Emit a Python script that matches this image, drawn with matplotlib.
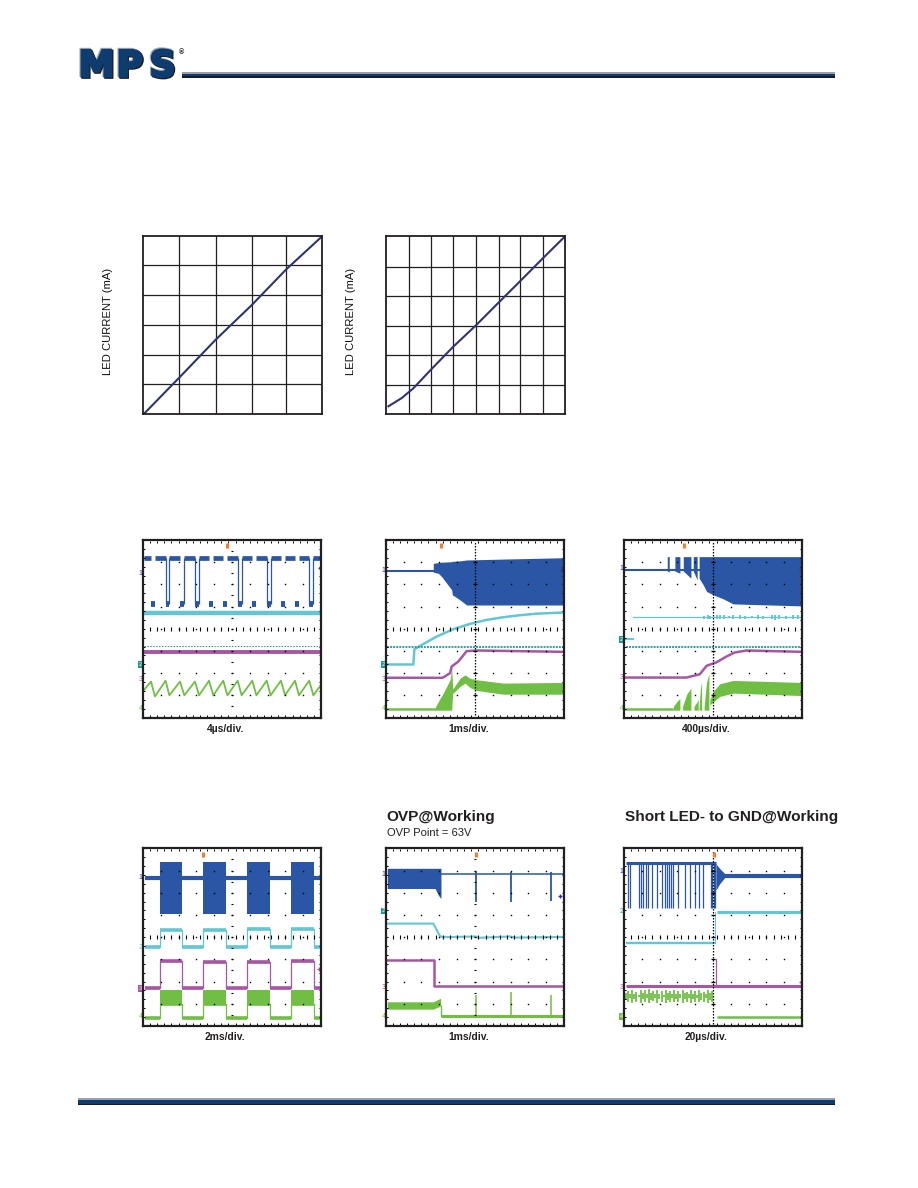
#!/usr/bin/env python
# datasheet page: two led current curves and six scope shots
import numpy as np
import matplotlib
matplotlib.use('Agg')
import matplotlib.pyplot as plt
import matplotlib.patheffects as pe
from matplotlib.patches import Rectangle

plt.rcParams['font.family'] = ['Liberation Sans', 'DejaVu Sans']

W, H = 918, 1188

BLUE = '#2a56a5'
CYAN = '#62c7d3'
PURPLE = '#a656a2'
GREEN = '#70bf44'
TEAL = '#1f9a9a'
ORANGE = '#f47c30'
NAVY = '#2e3192'
INK = '#231f20'
LOGO = '#0f3c6e'

# led current curves (grid divisions)
curve1_x = [0.06, 1.03, 2.04, 3.05, 4.01, 5.0]
curve1_y = [0.03, 1.23, 2.50, 3.67, 4.87, 5.97]
curve1_xticks = [1.03, 2.04, 3.05, 4.01]
curve2_x = [0.13, 0.73, 1.25, 2.05, 3.03, 4.03, 5.06, 6.02, 7.02, 8.0]
curve2_y = [0.26, 0.54, 0.87, 1.51, 2.27, 2.98, 3.76, 4.48, 5.24, 5.97]
curve2_xticks = [1.07, 2.05, 3.03, 4.03, 5.06, 6.02, 7.02]
curve1_yticks = [1.0, 2.0, 3.01, 4.0, 5.01]
curve2_yticks = [0.97, 1.98, 2.98, 3.99, 4.97]

# scope A, 4us/div
a_blue_high = [(0.07, 0.45), (0.67, 1.27), (1.48, 2.08), (2.32, 2.92), (3.15, 3.71), (3.95, 4.51),
               (4.74, 5.32), (5.54, 6.14), (6.37, 6.95), (7.17, 7.75), (7.98, 8.54), (8.76, 9.34), (9.57, 9.94)]
a_blue_low = [(0.45, 0.67), (1.27, 1.48), (2.08, 2.32), (2.92, 3.15), (3.71, 3.95), (4.51, 4.74),
              (5.32, 5.54), (6.14, 6.37), (6.95, 7.17), (7.75, 7.98), (8.54, 8.76), (9.34, 9.57)]
a_edges = [1.27, 1.48, 2.32, 2.92, 3.15, 5.32, 5.54, 6.95, 7.17, 9.34, 9.57]
a_green_x = [0.07, 0.45, 0.67, 1.27, 1.48, 2.08, 2.32, 2.92, 3.15, 3.71, 3.95, 4.51, 4.74, 5.32, 5.54,
             6.14, 6.37, 6.95, 7.17, 7.75, 7.98, 8.54, 8.76, 9.34, 9.57, 9.94]
a_green_y = [1.25, 1.62, 0.95, 1.66, 1.0, 1.62, 1.0, 1.62, 1.0, 1.66, 1.0, 1.66, 1.0, 1.66, 1.0,
             1.66, 1.0, 1.66, 1.0, 1.66, 1.0, 1.66, 1.0, 1.66, 1.0, 1.4]

# scope B, 1ms/div
b_blue_x = [2.67, 2.95, 3.14, 3.70, 3.74, 4.17, 4.54, 6.60, 9.93]
b_blue_top = [6.95, 6.98, 7.0, 7.02, 7.04, 7.06, 7.10, 7.14, 7.2]
b_blue_bot = [6.55, 6.50, 6.35, 5.75, 5.53, 5.30, 5.07, 5.07, 5.07]
b_cyan_x = [0.06, 1.55, 1.61, 1.93, 2.86, 3.79, 4.73, 5.66, 6.60, 7.53, 8.47, 9.93]
b_cyan_y = [2.39, 2.39, 3.08, 3.23, 3.65, 3.98, 4.22, 4.40, 4.52, 4.61, 4.68, 4.73]
b_purple_x = [0.06, 3.2, 3.61, 3.70, 4.07, 4.54, 5.10, 9.93]
b_purple_y = [1.79, 1.79, 2.0, 2.30, 2.52, 2.99, 3.02, 2.96]
b_green_x = [0.06, 2.77, 2.95, 3.23, 3.61, 3.70, 3.76, 3.79, 4.17, 4.45, 4.73, 5.10, 6.60, 9.93]
b_green_top = [0.44, 0.44, 0.72, 1.10, 1.70, 2.22, 1.30, 1.32, 1.77, 1.92, 1.77, 1.70, 1.55, 1.58]
b_green_bot = [0.33, 0.33, 0.33, 0.33, 0.33, 0.33, 1.10, 1.10, 1.40, 1.55, 1.35, 1.22, 1.05, 1.05]

# scope C, 400us/div
c_blue_bursts = [(2.43, 2.54, 6.55), (2.86, 3.14, 6.50), (3.33, 3.76, 6.28), (3.89, 4.11, 6.20)]
c_blue_x = [4.22, 4.45, 4.64, 5.01, 5.57, 6.13, 9.96]
c_blue_bot = [6.28, 5.98, 5.68, 5.53, 5.35, 5.12, 5.03]
c_cyan_noise = [4.5, 4.7, 4.85, 5.2, 5.4, 5.6, 5.9, 6.1, 6.5, 6.8, 7.2, 7.5, 7.8, 8.3, 8.5, 8.7, 9.1, 9.5, 9.8]
c_cyan_spread = [0.06, 0.08, 0.06, 0.10, 0.08, 0.10, 0.05, 0.08, 0.10, 0.06, 0.05, 0.10, 0.06, 0.10, 0.12, 0.10, 0.06, 0.08, 0.08]
c_purple_x = [0.11, 3.51, 4.26, 4.64, 5.20, 5.76, 6.22, 6.88, 9.96]
c_purple_y = [1.80, 1.80, 1.95, 2.33, 2.49, 2.75, 2.93, 3.02, 2.96]
c_green_bursts = [(2.77, 3.14, 0.87), (3.29, 3.76, 1.32), (3.93, 4.17, 0.80), (4.22, 4.36, 1.62), (4.50, 4.77, 1.97)]
c_green_x = [4.82, 5.01, 5.38, 6.13, 9.96]
c_green_top = [0.80, 1.17, 1.52, 1.67, 1.58]
c_green_bot = [0.57, 0.70, 0.95, 1.10, 0.99]

# scope D, 2ms/div: on/off edges of the dimming bursts
d_on = [0.94, 3.39, 5.86, 8.33]
d_off = [2.17, 4.64, 7.12, 9.59]
d_cyan_high = [4.32, 4.32, 4.36, 4.36]
d_purple_high = [2.92, 2.90, 2.90, 2.92]

# scope E, 1ms/div
e_blue_x = [0.09, 2.77, 2.95, 3.10]
e_blue_top = [7.10, 7.10, 7.10, 7.10]
e_blue_bot = [6.19, 6.19, 5.89, 5.74]
e_spike_x = [5.08, 7.03, 9.29]
e_spike_blue = [5.59, 5.59, 5.62]
e_spike_green = [1.39, 1.51, 1.39]
e_cyan_x = [0.09, 2.67, 3.05, 3.23, 5.05, 5.2, 7.0, 7.2, 9.93]
e_cyan_y = [4.61, 4.61, 4.04, 4.0, 4.03, 3.97, 4.03, 3.98, 4.01]
e_purple_x = [0.09, 2.71, 2.71, 9.93]
e_purple_y = [2.97, 2.97, 1.78, 1.78]
e_green_x = [0.09, 2.67, 3.08]
e_green_top = [1.09, 1.09, 1.25]
e_green_bot = [0.76, 0.76, 0.90]

# scope F, 20us/div
f_drop_x = [0.24, 0.34, 0.86, 0.95, 1.08, 1.21, 1.36, 1.55, 1.87, 2.11, 2.30, 2.43, 2.54, 2.64, 2.77,
            3.05, 3.44, 3.70, 3.98, 4.22, 4.45, 4.88, 4.95, 5.05, 5.12]
f_decay_x = [5.16, 5.38, 5.66]
f_decay_top = [7.31, 7.09, 6.86]
f_decay_bot = [6.11, 6.41, 6.68]
f_green_x = [0.12, 0.24, 0.34, 0.46, 0.58, 0.70, 0.82, 0.93, 1.05, 1.17, 1.29, 1.40, 1.52, 1.64, 1.76, 1.88,
             1.99, 2.11, 2.23, 2.35, 2.46, 2.58, 2.70, 2.82, 2.94, 3.05, 3.17, 3.29, 3.41, 3.52, 3.64, 3.76,
             3.88, 4.00, 4.11, 4.23, 4.35, 4.47, 4.58, 4.70, 4.82, 4.94]
f_green_lo = [1.18, 1.08, 1.25, 1.05, 1.22, 1.10, 1.30, 1.02, 1.20, 1.08, 1.28, 1.05, 1.18, 1.12, 1.25, 1.05,
              1.22, 1.08, 1.30, 1.04, 1.18, 1.10, 1.25, 1.06, 1.20, 1.08, 1.28, 1.05, 1.22, 1.10, 1.26, 1.04,
              1.20, 1.08, 1.28, 1.06, 1.18, 1.10, 1.24, 1.05, 1.16, 1.08]
f_green_hi = [1.48, 1.58, 1.42, 1.62, 1.46, 1.55, 1.40, 1.64, 1.48, 1.60, 1.42, 1.66, 1.50, 1.56, 1.44, 1.62,
              1.46, 1.58, 1.40, 1.62, 1.50, 1.56, 1.44, 1.60, 1.46, 1.58, 1.42, 1.62, 1.48, 1.54, 1.42, 1.62,
              1.46, 1.58, 1.40, 1.62, 1.50, 1.55, 1.44, 1.60, 1.48, 1.56]

# channel flags left of each shot: (label, y, colour, boxed)
a_flags = [('1', 6.5, NAVY, False), ('2', 2.37, TEAL, True), ('3', 1.70, PURPLE, False), ('4', 0.39, GREEN, False)]
b_flags = [('1', 6.62, NAVY, False), ('2', 2.39, TEAL, True), ('3', 1.73, PURPLE, False), ('4', 0.39, GREEN, False)]
c_flags = [('1', 6.73, NAVY, False), ('2', 3.53, TEAL, True), ('3', 1.80, PURPLE, False), ('4', 0.39, GREEN, False)]
d_flags = [('1', 6.68, NAVY, False), ('2', 3.54, CYAN, False), ('3', 1.70, PURPLE, True), ('4', 0.42, GREEN, False)]
e_flags = [('1', 6.83, NAVY, False), ('2', 5.18, TEAL, True), ('3', 1.72, PURPLE, False), ('4', 0.42, GREEN, False)]
f_flags = [('1', 6.95, NAVY, False), ('2', 5.14, TEAL, False), ('3', 1.74, PURPLE, False), ('4', 0.42, GREEN, True)]

trigger_x = [4.74, 3.10, 3.36, 3.39, 5.07, 5.07]
right_marks = [(9.92, 6.72, NAVY), (9.9, 6.65, NAVY), (9.95, 6.7, NAVY), (9.9, 2.55, PURPLE), (9.8, 5.87, NAVY), (9.95, 1.98, PURPLE)]
scope_labels = ['4\u00b5s/div.', '1ms/div.', '400\u00b5s/div.', '2ms/div.', '1ms/div.', '20\u00b5s/div.']


def px_axes(fig, l, t, r, b):
    return fig.add_axes([l / W, 1 - b / H, (r - l) / W, (b - t) / H])


def fig_rect(fig, l, t, r, b, color):
    fig.add_artist(Rectangle((l / W, 1 - b / H), (r - l) / W, (b - t) / H,
                             transform=fig.transFigure, color=color, lw=0))


def curve_panel(fig, box, x, y, xticks, yticks, nx):
    ax = px_axes(fig, *box)
    ax.set_xlim(0, nx)
    ax.set_ylim(0, 6)
    ax.set_xticks(xticks)
    ax.set_yticks(yticks)
    ax.tick_params(length=0, labelbottom=False, labelleft=False)
    ax.grid(True, color=INK, lw=0.9)
    ax.set_axisbelow(True)
    ax.plot(x, y, color='#2f3470', lw=1.5)
    for s in ax.spines.values():
        s.set_linewidth(1.3)
        s.set_color(INK)
    ax.text(-0.19, 0.52, 'LED CURRENT (mA)', transform=ax.transAxes, rotation=90, ha='center',
            va='center', fontsize=8.1, color='#111111')
    return ax


def graticule(ax, dense_centre):
    # dots on each division, finer ticks on the border and centre cross
    for gx in range(1, 10):
        ax.plot([gx] * 7, list(range(1, 8)), ls='', marker='s', ms=1.0, mew=0, color='k', zorder=6)
    border_x = np.arange(0.4, 10, 0.4)
    border_y = np.arange(0.4, 8, 0.4)
    ax.plot(border_x, [4] * len(border_x), ls='', marker='|', ms=2.8, mew=0.8, color='k', zorder=6)
    ax.plot(border_x, [7.93] * len(border_x), ls='', marker='|', ms=2, mew=0.7, color='k', zorder=6)
    ax.plot(border_x, [0.07] * len(border_x), ls='', marker='|', ms=2, mew=0.7, color='k', zorder=6)
    ax.plot([0.07] * len(border_y), border_y, ls='', marker='_', ms=2, mew=0.7, color='k', zorder=6)
    ax.plot([9.93] * len(border_y), border_y, ls='', marker='_', ms=2, mew=0.7, color='k', zorder=6)
    if dense_centre:
        ax.plot([5, 5], [0.1, 7.9], color='k', lw=0.9, ls=(0, (1.2, 1.2)), zorder=6)
        ax.plot([5] * 7, list(range(1, 8)), ls='', marker='_', ms=2.6, mew=0.9, color='k', zorder=6)
    else:
        centre_y = np.arange(0.5, 8, 0.5)
        ax.plot([5] * len(centre_y), centre_y, ls='', marker='_', ms=1.5, mew=0.8, color='k', zorder=6)


def scope_panel(fig, box, flags, trig, mark, label, dense_centre=False):
    ax = px_axes(fig, *box)
    ax.set_xlim(0, 10)
    ax.set_ylim(0, 8)
    ax.set_xticks([])
    ax.set_yticks([])
    for s in ax.spines.values():
        s.set_linewidth(1.6)
        s.set_color(INK)
        s.set_zorder(10)
    graticule(ax, dense_centre)
    ax.plot([trig, trig], [7.62, 7.85], color=ORANGE, lw=2.2, solid_capstyle='butt', zorder=7)
    ax.plot([mark[0]], [mark[1]], marker='+', ms=3, mew=1, color=mark[2], zorder=7)
    for txt, y, col, boxed in flags:
        if boxed:
            ax.text(-0.13, y, txt, fontsize=4.5, color='white', ha='center', va='center', clip_on=False,
                    bbox=dict(boxstyle='square,pad=0.15', fc=col, ec=col, lw=0))
        else:
            ax.text(-0.13, y, txt, fontsize=5, color=col, ha='center', va='center', clip_on=False)
    ax.text(0.463, -0.066 if box[1] < 800 else -0.062, label, transform=ax.transAxes, ha='center', va='center',
            fontsize=7.4, weight='bold', color=INK)
    return ax


fig = plt.figure(figsize=(W / 100, H / 100), dpi=100, facecolor='white')

# header and footer rules
fig_rect(fig, 181.5, 72, 835, 73.5, '#9a9fb0')
fig_rect(fig, 181.5, 73.5, 835, 76.5, LOGO)
fig_rect(fig, 181.5, 76.5, 835, 78, '#1c1a1a')
fig_rect(fig, 78, 1098, 835, 1100, '#9a9fb0')
fig_rect(fig, 78, 1100, 835, 1103.5, LOGO)
fig_rect(fig, 78, 1103.5, 835, 1105, '#1c1a1a')

logo_effects = [pe.Stroke(linewidth=2, foreground='#9aa6b8', offset=(-0.7, 0.7), joinstyle='miter'),
                pe.Stroke(linewidth=2, foreground='#1c1a1a', offset=(0.7, -0.7), joinstyle='miter'),
                pe.Stroke(linewidth=1.8, foreground=LOGO, joinstyle='miter'), pe.Normal()]
for letter, lx in [('M', 78.5), ('P', 116.5), ('S', 149.5)]:
    t = fig.text(lx / W, 1 - 76.5 / H, letter, fontsize=26, weight='bold', family='DejaVu Sans', color=LOGO,
                 ha='left', va='baseline')
    t.set_path_effects(logo_effects)
fig.text(178.5 / W, 1 - 53 / H, '\u00ae', fontsize=5, weight='bold', color=INK, ha='left', va='center')

curve_panel(fig, (142.5, 236, 321.5, 414), curve1_x, curve1_y, curve1_xticks, curve1_yticks, 5)
curve_panel(fig, (385.5, 236, 564.5, 414), curve2_x, curve2_y, curve2_xticks, curve2_yticks, 8)

row1 = (540, 717.5)
row2 = (848.3, 1026)
left_a, left_b, left_c = (143, 321), (385.7, 564), (624, 802)

# A
ax = scope_panel(fig, (left_a[0], row1[0], left_a[1], row1[1]), a_flags, trigger_x[0], right_marks[0], scope_labels[0])
for x0, x1 in a_blue_high:
    ax.plot([x0, x1], [7.18, 7.18], color=BLUE, lw=3.4, solid_capstyle='butt')
for x0, x1 in a_blue_low:
    ax.plot([x0, x1], [5.12, 5.12], color=BLUE, lw=4.2, solid_capstyle='butt')
ax.vlines(a_edges, 5.12, 7.18, color=BLUE, lw=0.9)
ax.plot([0.07, 9.94], [4.73, 4.73], color=CYAN, lw=3.2, solid_capstyle='butt')
ax.plot([0.07, 9.94], [3.21, 3.21], color=TEAL, lw=0.7, ls=(0, (1.5, 1.5)))
ax.plot([0.07, 9.94], [2.97, 2.97], color=PURPLE, lw=2.8, solid_capstyle='butt')
ax.plot(a_green_x, a_green_y, color=GREEN, lw=1.3)

# B
ax = scope_panel(fig, (left_b[0], row1[0], left_b[1], row1[1]), b_flags, trigger_x[1], right_marks[1], scope_labels[1], True)
ax.plot([0.06, 2.7], [6.62, 6.62], color=BLUE, lw=1.5)
ax.fill_between(b_blue_x, b_blue_bot, b_blue_top, color=BLUE, lw=0)
ax.plot(b_cyan_x, b_cyan_y, color=CYAN, lw=1.8)
ax.plot([0.06, 9.93], [3.18, 3.18], color=TEAL, lw=1.3, ls=(0, (1.1, 0.6)))
ax.plot(b_purple_x, b_purple_y, color=PURPLE, lw=1.8)
ax.fill_between(b_green_x, b_green_bot, b_green_top, color=GREEN, lw=0)

# C
ax = scope_panel(fig, (left_c[0], row1[0], left_c[1], row1[1]), c_flags, trigger_x[2], right_marks[2], scope_labels[2], True)
ax.plot([0.11, 4.3], [6.65, 6.65], color=BLUE, lw=1.5)
for x0, x1, low in c_blue_bursts:
    ax.fill_between([x0, x1], [6.6, low], [7.25, 7.25], color=BLUE, lw=0)
ax.fill_between(c_blue_x, c_blue_bot, [7.25] * len(c_blue_x), color=BLUE, lw=0)
ax.plot([0.11, 0.52], [3.53, 3.53], color=CYAN, lw=1.4)
ax.plot([0.52, 9.96], [4.52, 4.52], color=CYAN, lw=0.9)
ax.vlines(c_cyan_noise, 4.52 - np.array(c_cyan_spread), 4.52 + np.array(c_cyan_spread), color=CYAN, lw=1.4)
ax.plot([0.11, 9.96], [3.18, 3.18], color=TEAL, lw=1.3, ls=(0, (1.1, 0.6)))
ax.plot(c_purple_x, c_purple_y, color=PURPLE, lw=1.8)
ax.plot([0.11, 2.7], [0.39, 0.39], color=GREEN, lw=1.8)
for x0, x1, top in c_green_bursts:
    ax.fill_between([x0, (x0 + x1) / 2, x1], [0.33, 0.33, 0.33], [0.5, top * 0.8, top], color=GREEN, lw=0)
ax.fill_between(c_green_x, c_green_bot, c_green_top, color=GREEN, lw=0)

# D
ax = scope_panel(fig, (left_a[0], row2[0], left_a[1], row2[1]), d_flags, trigger_x[3], right_marks[3], scope_labels[3])
ax.plot([0.1, 9.93], [6.68, 6.68], color=BLUE, lw=3, solid_capstyle='butt')
cyan_x, cyan_y, purple_x, purple_y, green_x, green_y = [0.1], [3.54], [0.1], [1.73], [0.1], [0.36]
for on, off, ch, ph in zip(d_on, d_off, d_cyan_high, d_purple_high):
    ax.fill_between([on, off], [5.05, 5.05], [7.40, 7.40], color=BLUE, lw=0)
    ax.fill_between([on, off], [0.95, 0.95], [1.62, 1.62], color=GREEN, lw=0)
    cyan_x += [on, on, off, off]
    cyan_y += [3.54, ch, ch, 3.54]
    purple_x += [on, on, off, off]
    purple_y += [1.73, ph, ph, 1.73]
    green_x += [on, on, off, off]
    green_y += [0.36, 1.0, 1.0, 0.36]
for xs, ys, col in [(cyan_x, cyan_y, CYAN), (purple_x, purple_y, PURPLE), (green_x, green_y, GREEN)]:
    xs = xs + [9.93]
    ys = ys + [ys[-1]]
    ax.plot(xs, ys, color=col, lw=0.9)
    flat = [(xs[i], xs[i + 1], ys[i]) for i in range(len(xs) - 1) if ys[i] == ys[i + 1]]
    for x0, x1, y in flat:
        ax.plot([x0, x1], [y, y], color=col, lw=2.6, solid_capstyle='butt')

# E
ax = scope_panel(fig, (left_b[0], row2[0], left_b[1], row2[1]), e_flags, trigger_x[4], right_marks[4], scope_labels[4])
ax.fill_between(e_blue_x, e_blue_bot, e_blue_top, color=BLUE, lw=0)
ax.plot([3.10, 9.93], [6.86, 6.86], color=BLUE, lw=1.1)
ax.vlines(e_spike_x, e_spike_blue, 6.95, color=BLUE, lw=1.3)
ax.plot(e_cyan_x, e_cyan_y, color=CYAN, lw=1.5)
ax.plot(e_purple_x, e_purple_y, color=PURPLE, lw=1.8)
ax.fill_between(e_green_x, e_green_bot, e_green_top, color=GREEN, lw=0)
ax.plot([3.08, 3.08], [0.9, 0.46], color=GREEN, lw=1)
ax.plot([3.08, 9.93], [0.46, 0.46], color=GREEN, lw=2.2, solid_capstyle='butt')
ax.vlines(e_spike_x, 0.46, e_spike_green, color=GREEN, lw=1.1)

# F
ax = scope_panel(fig, (left_c[0], row2[0], left_c[1], row2[1]), f_flags, trigger_x[5], right_marks[5], scope_labels[5], True)
ax.plot([0.11, 5.16], [7.36, 7.36], color=BLUE, lw=2.2, solid_capstyle='butt')
ax.vlines(f_drop_x, 5.29, 7.36, color=BLUE, lw=0.9)
ax.fill_between(f_decay_x, f_decay_bot, f_decay_top, color=BLUE, lw=0)
ax.plot([5.66, 9.93], [6.77, 6.77], color=BLUE, lw=3, solid_capstyle='butt')
ax.plot([0.11, 5.10], [3.75, 3.75], color=CYAN, lw=1.7, solid_capstyle='butt')
ax.plot([5.10, 5.10], [3.75, 5.15], color=CYAN, lw=0.7)
ax.plot([5.2, 9.93], [5.15, 5.15], color=CYAN, lw=2.2, solid_capstyle='butt')
ax.plot([0.11, 9.93], [1.78, 1.78], color=PURPLE, lw=2.2, solid_capstyle='butt')
ax.plot([5.16, 5.16], [1.78, 3.0], color=PURPLE, lw=0.9)
ax.vlines(f_green_x, f_green_lo, f_green_hi, color=GREEN, lw=1.3)
ax.plot([5.2, 9.93], [0.42, 0.42], color=GREEN, lw=1.8, solid_capstyle='butt')

fig.text(386.7 / W, 1 - 817 / H, 'OVP@Working', fontsize=11.1, weight='bold', color=INK, va='center')
fig.text(386.7 / W, 1 - 832.7 / H, 'OVP Point = 63V', fontsize=8, color=INK, va='center')
fig.text(625.3 / W, 1 - 817 / H, 'Short LED- to GND@Working', fontsize=11.1, weight='bold', color=INK, va='center')

plt.savefig('out.png', dpi=100)
